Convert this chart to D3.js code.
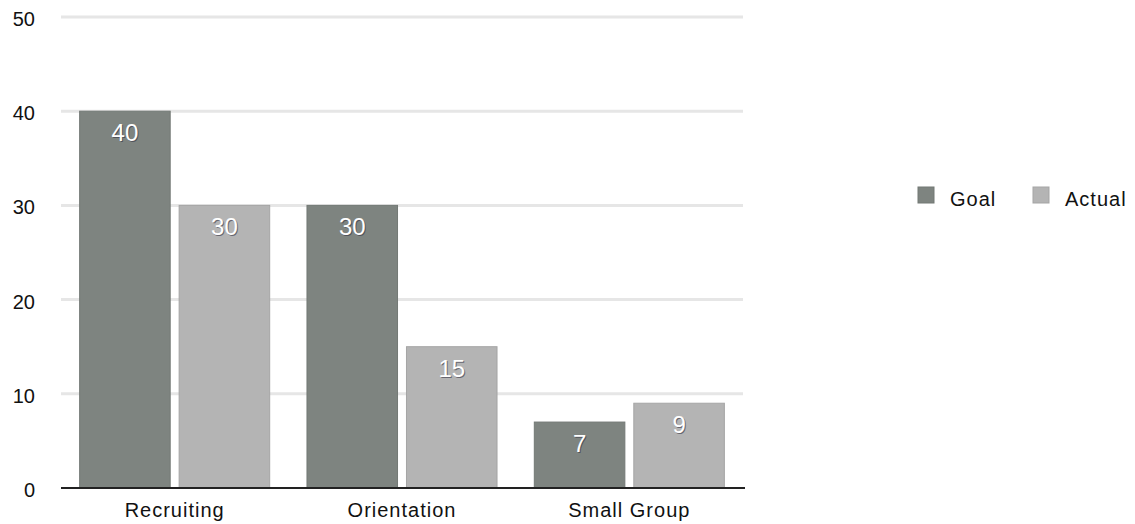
<!DOCTYPE html>
<html>
<head>
<meta charset="utf-8">
<script src="https://cdn.jsdelivr.net/npm/d3@7"></script>
<style>
  body { margin: 0; background: #fff; }
  svg text { font-family: "Liberation Sans", Arial, sans-serif; }
</style>
</head>
<body>
<div id="chart"></div>
<script>
// data
const categories = ['Recruiting', 'Orientation', 'Small Group'];
const seriesNames = ['Goal', 'Actual'];
const goalValues = [40, 30, 7];
const actualValues = [30, 15, 9];
const yTicks = [0, 10, 20, 30, 40, 50];
const seriesColors = ['#7e8480', '#b4b4b4'];

const width = 1135, height = 524;
const plot = { left: 61, right: 743, top: 17, bottom: 488 };

const svg = d3.select('#chart')
  .append('svg')
  .attr('width', width)
  .attr('height', height);

const y = d3.scaleLinear().domain([0, 50]).range([plot.bottom, plot.top]);

const x0 = d3.scaleBand()
  .domain(categories)
  .range([plot.left, plot.right])
  .paddingInner(0.164)
  .paddingOuter(0.082);

const x1 = d3.scaleBand()
  .domain(seriesNames)
  .range([0, x0.bandwidth()])
  .paddingInner(0.09);

const color = d3.scaleOrdinal().domain(seriesNames).range(seriesColors);

// gridlines
svg.append('g')
  .selectAll('line')
  .data(yTicks.filter(d => d > 0))
  .join('line')
  .attr('x1', plot.left)
  .attr('x2', plot.right)
  .attr('y1', d => y(d))
  .attr('y2', d => y(d))
  .attr('stroke', '#e6e6e6')
  .attr('stroke-width', 3);

// y tick labels
svg.append('g')
  .selectAll('text')
  .data(yTicks)
  .join('text')
  .attr('x', 35)
  .attr('y', d => y(d) + 9)
  .attr('text-anchor', 'end')
  .style('font-size', '20px')
  .style('fill', '#111')
  .text(d => d);

const rows = categories.map((c, i) => ({
  category: c,
  values: [
    { key: 'Goal', value: goalValues[i] },
    { key: 'Actual', value: actualValues[i] }
  ]
}));

// bars
const groups = svg.append('g')
  .selectAll('g')
  .data(rows)
  .join('g')
  .attr('transform', d => `translate(${x0(d.category)},0)`);

groups.selectAll('rect')
  .data(d => d.values)
  .join('rect')
  .attr('x', d => x1(d.key))
  .attr('y', d => y(d.value))
  .attr('width', x1.bandwidth())
  .attr('height', d => y(0) - y(d.value))
  .attr('fill', d => color(d.key))
  .attr('stroke', d => d3.color(color(d.key)).darker(0.25))
  .attr('stroke-width', 1);

// value labels (shadow then white)
groups.selectAll('text.shadow')
  .data(d => d.values)
  .join('text')
  .attr('class', 'shadow')
  .attr('x', d => x1(d.key) + x1.bandwidth() / 2 + 1)
  .attr('y', d => y(d.value) + 31)
  .attr('text-anchor', 'middle')
  .style('font-size', '24px')
  .style('fill', '#334')
  .style('opacity', 0.6)
  .text(d => d.value);

groups.selectAll('text.val')
  .data(d => d.values)
  .join('text')
  .attr('class', 'val')
  .attr('x', d => x1(d.key) + x1.bandwidth() / 2)
  .attr('y', d => y(d.value) + 30)
  .attr('text-anchor', 'middle')
  .style('font-size', '24px')
  .style('fill', '#fff')
  .text(d => d.value);

// baseline
svg.append('line')
  .attr('x1', plot.left)
  .attr('x2', plot.right + 2)
  .attr('y1', y(0))
  .attr('y2', y(0))
  .attr('stroke', '#222')
  .attr('stroke-width', 2);

// x labels
svg.append('g')
  .selectAll('text')
  .data(categories)
  .join('text')
  .attr('x', d => x0(d) + x0.bandwidth() / 2)
  .attr('y', 517)
  .attr('text-anchor', 'middle')
  .style('font-size', '20px')
  .style('letter-spacing', '1px')
  .style('fill', '#111')
  .text(d => d);

// legend
const legendX = [918, 1033];
const legend = svg.append('g')
  .selectAll('g')
  .data(seriesNames)
  .join('g')
  .attr('transform', (d, i) => `translate(${legendX[i]},187)`);

legend.append('rect')
  .attr('width', 16)
  .attr('height', 16)
  .attr('fill', d => color(d))
  .attr('stroke', d => d3.color(color(d)).darker(0.25));

legend.append('text')
  .attr('x', 32)
  .attr('y', 19)
  .style('font-size', '20px')
  .style('letter-spacing', '1px')
  .style('fill', '#111')
  .text(d => d);
</script>
</body>
</html>
